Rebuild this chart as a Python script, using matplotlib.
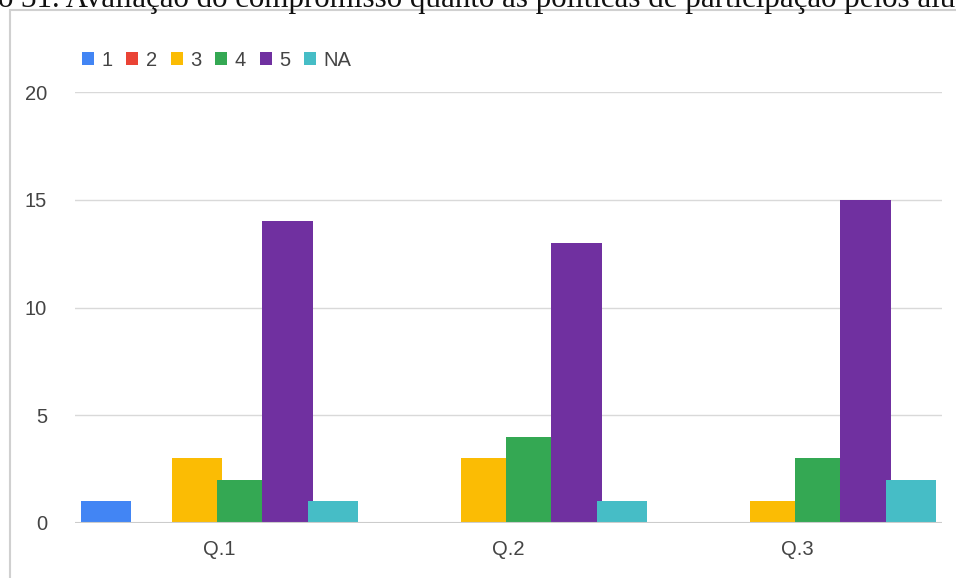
import numpy as np
import matplotlib.pyplot as plt
from matplotlib.patches import Rectangle

questions = ['Q.1', 'Q.2', 'Q.3']
series = ['1', '2', '3', '4', '5', 'NA']
s1 = [1, 0, 0]
s2 = [0, 0, 0]
s3 = [3, 3, 1]
s4 = [2, 4, 3]
s5 = [14, 13, 15]
sNA = [1, 1, 2]
colors = ['#4285F4', '#EA4335', '#FBBC04', '#34A853', '#7030A0', '#46BDC6']
title = 'o 31. Avaliação do compromisso quanto às políticas de participação pelos alu'

W, H = 956, 578
fig = plt.figure(figsize=(W / 100, H / 100), dpi=100)
plt.rcParams['font.family'] = ['Liberation Sans', 'DejaVu Sans']

# outer frame of the embedded chart
fig.patches.append(Rectangle((10 / W, -0.1), 2, (H - 10) / H + 0.1, transform=fig.transFigure,
                             fill=False, edgecolor='#d0d0d0', lw=1.5))
fig.text(-2 / W, 1 - 7 / H, title, family=['Liberation Serif', 'DejaVu Serif'],
         fontsize=22.3, color='#111111', ha='left', va='baseline')

ax = fig.add_axes([75 / W, 1 - 523 / H, (942 - 75) / W, (523 - 92) / H])
x = np.arange(len(questions))
slot = 0.157
width = 0.175
data = [s1, s2, s3, s4, s5, sNA]
for i, (vals, c, name) in enumerate(zip(data, colors, series)):
    ax.bar(x + (i - 2.5) * slot, vals, width, color=c, label=name, zorder=3)

ax.set_xlim(-0.5, 2.5)
ax.set_ylim(0, 20)
ax.set_yticks([0, 5, 10, 15, 20])
ax.grid(axis='y', color='#d9d9d9', lw=1, zorder=0)
ax.axhline(0, color='#cccccc', lw=1.5, zorder=4)
for s in ax.spines.values():
    s.set_visible(False)
ax.tick_params(length=0, labelsize=14.5, labelcolor='#444444')
ax.tick_params(axis='y', pad=20)
ax.tick_params(axis='x', pad=12)
ax.set_xticks(x)
ax.set_xticklabels(questions)

fig.legend(loc='center left', bbox_to_anchor=(74 / W, 1 - 60 / H), ncol=6, frameon=False,
           handlelength=0.6, handleheight=0.6, handletextpad=0.35, columnspacing=0.7,
           fontsize=14.5, labelcolor='#444444', borderaxespad=0)

fig.savefig('out.png', dpi=100)
